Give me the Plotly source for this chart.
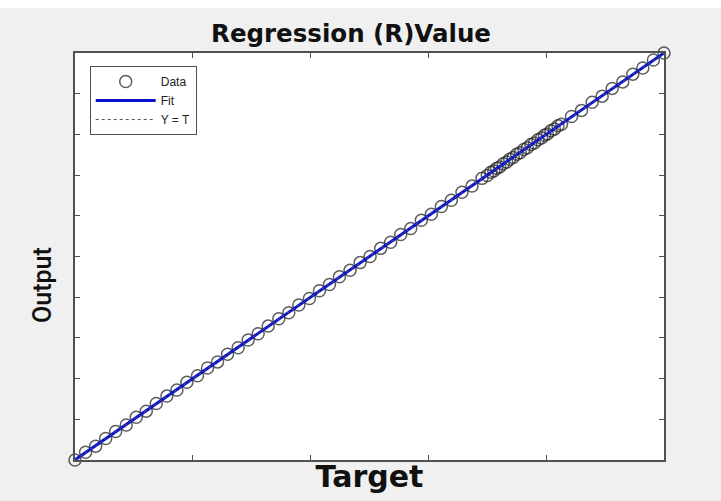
import numpy as np
import plotly.graph_objects as go

# ---- data (normalised target / output values) ----
targets = [0.000, 0.018, 0.035, 0.052, 0.069, 0.087, 0.104, 0.121, 0.138, 0.156,
           0.173, 0.190, 0.208, 0.225, 0.242, 0.259, 0.277, 0.294, 0.311, 0.328,
           0.346, 0.363, 0.380, 0.398, 0.415, 0.432, 0.449, 0.467, 0.484, 0.501,
           0.519, 0.536, 0.553, 0.570, 0.588, 0.605, 0.622, 0.639, 0.657, 0.674,
           0.691, 0.700, 0.706, 0.711, 0.716, 0.721, 0.727, 0.733, 0.738, 0.744,
           0.750, 0.756, 0.762, 0.768, 0.774, 0.780, 0.786, 0.792, 0.797, 0.802,
           0.808, 0.814, 0.820, 0.826, 0.843, 0.860, 0.878, 0.895, 0.912, 0.930,
           0.947, 0.964, 0.982, 1.000]
outputs = [0.000, 0.019, 0.034, 0.053, 0.070, 0.086, 0.105, 0.120, 0.139, 0.157,
           0.172, 0.191, 0.207, 0.226, 0.241, 0.260, 0.276, 0.295, 0.310, 0.329,
           0.347, 0.362, 0.381, 0.397, 0.416, 0.431, 0.450, 0.466, 0.485, 0.500,
           0.520, 0.535, 0.554, 0.569, 0.589, 0.604, 0.623, 0.638, 0.658, 0.673,
           0.692, 0.699, 0.707, 0.710, 0.717, 0.720, 0.728, 0.732, 0.739, 0.743,
           0.751, 0.755, 0.763, 0.767, 0.775, 0.779, 0.787, 0.791, 0.798, 0.801,
           0.809, 0.813, 0.821, 0.825, 0.844, 0.859, 0.879, 0.894, 0.913, 0.929,
           0.948, 0.963, 0.983, 1.000]

x_ticks = [0.0, 0.2, 0.4, 0.6, 0.8, 1.0]
y_ticks = [0.0, 0.1, 0.2, 0.3, 0.4, 0.5, 0.6, 0.7, 0.8, 0.9, 1.0]

# linear regression fit
slope, intercept = np.polyfit(targets, outputs, 1)
fit_x = [min(targets), max(targets)]
fit_y = [slope * v + intercept for v in fit_x]

fig = go.Figure()
fig.add_trace(go.Scatter(
    x=targets, y=outputs, mode="markers", name="Data",
    marker=dict(symbol="circle-open", size=12, color="rgba(40,40,40,0.75)",
                line=dict(width=1.5)),
    cliponaxis=False))
fig.add_trace(go.Scatter(
    x=fit_x, y=fit_y, mode="lines", name="Fit",
    line=dict(color="#0a14d0", width=3), cliponaxis=False))
fig.add_trace(go.Scatter(
    x=fit_x, y=fit_x, mode="lines", name="Y = T",
    line=dict(color="#555555", width=1, dash="dot"), cliponaxis=False))

axis_common = dict(range=[0, 1], showgrid=False, zeroline=False, showline=True,
                   mirror="ticks", linecolor="#505050", linewidth=1.5,
                   ticks="inside", ticklen=5, tickcolor="#505050", tickwidth=1,
                   showticklabels=False, tickmode="array")

fig.update_layout(
    width=721, height=501,
    margin=dict(l=75, r=57, t=53, b=41),
    paper_bgcolor="#f0f0f0", plot_bgcolor="white",
    showlegend=True,
    title=dict(text="<b>Regression (R)Value</b>", x=351 / 721, xanchor="center",
               y=1 - 33 / 501, yanchor="middle",
               font=dict(family="DejaVu Sans, Open Sans, sans-serif", size=24.5, color="#111111")),
    xaxis=dict(axis_common, tickvals=x_ticks,
               title=dict(text="<b>Target</b>", standoff=5,
                          font=dict(family="DejaVu Sans, Open Sans, sans-serif", size=30, color="#111111"))),
    yaxis=dict(axis_common, tickvals=y_ticks),
    annotations=[dict(text="Output", textangle=-90, showarrow=False,
                      xref="paper", yref="paper",
                      x=(42 - 75) / 589, y=1 - (285 - 53) / 407,
                      xanchor="center", yanchor="middle",
                      font=dict(family="Roboto, Liberation Sans, sans-serif", weight=500,
                                size=25, color="#111111"))],
    legend=dict(x=0.025, y=0.968, xanchor="left", yanchor="top",
                bgcolor="white", bordercolor="#505050", borderwidth=1,
                font=dict(family="Arial, Liberation Sans, sans-serif", size=12, color="#222222"),
                itemwidth=60, tracegroupgap=0),
    shapes=[dict(type="rect", xref="paper", yref="paper",
                 x0=-75 / 589, x1=(721 - 75) / 589,
                 y0=1 + 45 / 407, y1=1 + 53 / 407,
                 fillcolor="white", line=dict(width=0), layer="below")],
)

fig.write_html("out.html", config={"displayModeBar": False},
               post_script="document.body.style.margin='0';")
